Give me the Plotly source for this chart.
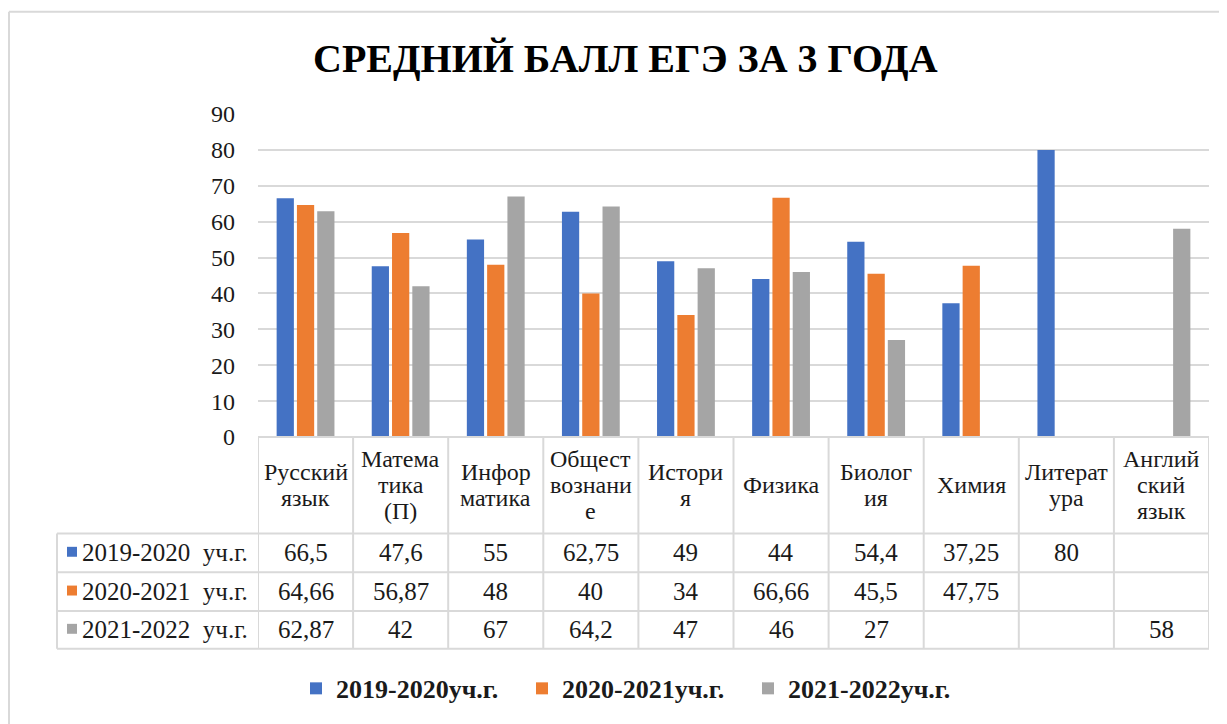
import plotly.graph_objects as go

# ---- data ----
categories = ["Русский язык", "Математика (П)", "Информатика", "Обществознание", "История",
              "Физика", "Биология", "Химия", "Литература", "Английский язык"]
header_labels = ["Русский<br>язык", "Матема<br>тика<br>(П)", "Инфор<br>матика", "Общест<br>вознани<br>е",
                 "Истори<br>я", "Физика", "Биолог<br>ия", "Химия", "Литерат<br>ура", "Англий<br>ский<br>язык"]
series_names = ["2019-2020уч.г.", "2020-2021уч.г.", "2021-2022уч.г."]
table_names = ["2019-2020\u00a0\u00a0уч.г.", "2020-2021\u00a0\u00a0уч.г.", "2021-2022\u00a0\u00a0уч.г."]
y2019 = [66.5, 47.6, 55, 62.75, 49, 44, 54.4, 37.25, 80, None]
y2020 = [64.66, 56.87, 48, 40, 34, 66.66, 45.5, 47.75, None, None]
y2021 = [62.87, 42, 67, 64.2, 47, 46, 27, None, None, 58]
colors = ["#4472C4", "#ED7D31", "#A5A5A5"]
title_text = "СРЕДНИЙ БАЛЛ ЕГЭ ЗА 3 ГОДА"
y_ticks = list(range(0, 100, 10))

series = [y2019, y2020, y2021]

OFF = 8  # page body margin
W, H = 1227 - OFF, 724 - OFF
L, R, T, B = 258 - OFF, 1209 - OFF, 114 - OFF, 439 - OFF
FONT = "Liberation Serif"
GRID = "#d9d9d9"
TXT = "#1a1a1a"
FS = 24
FS_HEAD = 24
FS_CELL = 25


def px(x):
    return (x - OFF - L) / (R - L)


def py(y):
    return (B - (y - OFF)) / (B - T)


def fmt(v):
    if v is None:
        return ""
    if float(v) == int(v):
        return str(int(v))
    return ("%g" % v).replace(".", ",")


fig = go.Figure()
for name, vals, col in zip(series_names, series, colors):
    fig.add_trace(go.Bar(
        x=list(range(len(categories))), y=vals, name="<b>" + name + "</b>",
        marker=dict(color=col, line=dict(width=0)),
        hovertext=categories,
    ))

shapes = []
annotations = []

# outer chart border
shapes.append(dict(type="line", xref="paper", yref="paper", x0=px(9), x1=px(1240), y0=py(11), y1=py(11),
                   line=dict(color=GRID, width=2)))
shapes.append(dict(type="line", xref="paper", yref="paper", x0=px(9), x1=px(9), y0=py(11), y1=py(740),
                   line=dict(color=GRID, width=2)))

# table lines
row_y = [439, 536, 575, 614, 652]
n = len(categories)
for i in range(n + 1):
    shapes.append(dict(type="line", xref="x", yref="paper", x0=i - 0.5, x1=i - 0.5,
                       y0=py(439), y1=py(652), line=dict(color=GRID, width=2)))
shapes.append(dict(type="line", xref="paper", yref="paper", x0=0, x1=1, y0=py(439), y1=py(439),
                   line=dict(color=GRID, width=2)))
for ry in row_y[1:]:
    shapes.append(dict(type="line", xref="paper", yref="paper", x0=px(57), x1=1, y0=py(ry), y1=py(ry),
                       line=dict(color=GRID, width=2)))
shapes.append(dict(type="line", xref="paper", yref="paper", x0=px(57), x1=px(57), y0=py(536), y1=py(652),
                   line=dict(color=GRID, width=2)))

# header labels (each line placed separately for tight line spacing)
LINE = 26
hc = (439 + 536) / 2
for i, lab in enumerate(header_labels):
    parts = lab.split("<br>")
    m = len(parts)
    for k, part in enumerate(parts):
        yk = hc + (k - (m - 1) / 2) * LINE
        annotations.append(dict(x=i, y=py(yk), xref="x", yref="paper", text=part, showarrow=False,
                                xanchor="center", yanchor="middle", align="center",
                                font=dict(family=FONT, size=FS_HEAD, color=TXT)))

# table rows
for r, (tname, vals, col) in enumerate(zip(table_names, series, colors)):
    yc = (row_y[r + 1] + row_y[r + 2]) / 2
    shapes.append(dict(type="rect", xref="paper", yref="paper", x0=px(67), x1=px(77),
                       y0=py(yc - 6), y1=py(yc + 4), fillcolor=col, line=dict(width=0)))
    annotations.append(dict(x=px(80), y=py(yc), xref="paper", yref="paper", text=tname, showarrow=False,
                            xanchor="left", yanchor="middle",
                            font=dict(family=FONT, size=FS_CELL, color=TXT)))
    for i, v in enumerate(vals):
        if v is None:
            continue
        annotations.append(dict(x=i, y=py(yc), xref="x", yref="paper", text=fmt(v), showarrow=False,
                                xanchor="center", yanchor="middle",
                                font=dict(family=FONT, size=FS_CELL, color=TXT)))

# title
annotations.append(dict(x=px(625), y=py(58), xref="paper", yref="paper", text="<b>" + title_text + "</b>",
                        showarrow=False, xanchor="center", yanchor="middle",
                        font=dict(family=FONT, size=40, color="#000000")))

fig.update_layout(
    width=W, height=H,
    margin=dict(l=L, r=W - R, t=T, b=H - B, pad=0),
    font=dict(family=FONT, size=FS, color=TXT),
    paper_bgcolor="white", plot_bgcolor="white",
    barmode="group", bargap=0.36, bargroupgap=0.15,
    showlegend=True,
    legend=dict(orientation="h", x=px(635), y=py(692), xanchor="center", yanchor="middle",
                entrywidth=181, entrywidthmode="pixels",
                font=dict(family=FONT, size=26, color=TXT),
                itemclick=False, itemdoubleclick=False),
    shapes=shapes, annotations=annotations,
    xaxis=dict(range=[-0.5, n - 0.5], showticklabels=False, showgrid=False, zeroline=False,
               showline=False, ticks="", fixedrange=True),
    yaxis=dict(range=[0, 90], tickvals=y_ticks, showgrid=True, gridcolor=GRID, gridwidth=2,
               zeroline=False, showline=False, ticks="", ticklabelstandoff=22,
               tickfont=dict(family=FONT, size=FS, color=TXT), fixedrange=True),
)

fig.write_html("out.html")
